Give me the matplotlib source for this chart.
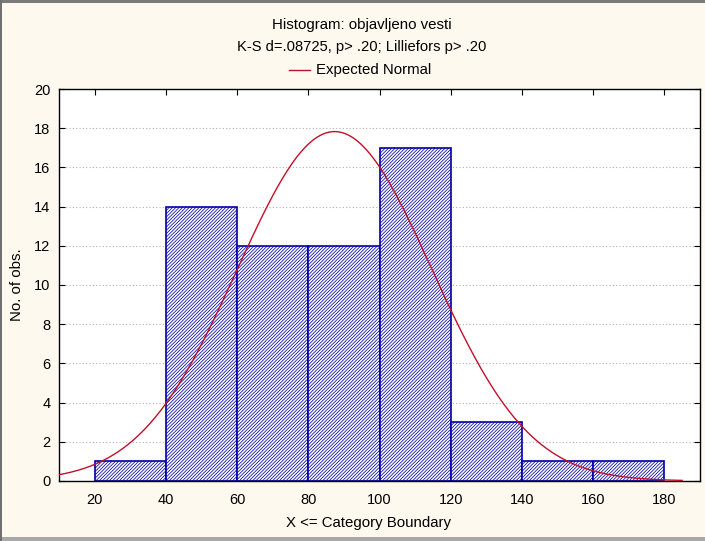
import numpy as np
import matplotlib
matplotlib.use("Agg")
import matplotlib.pyplot as plt
from matplotlib.patches import Rectangle
from matplotlib.lines import Line2D

# ---- data ----
bin_edges = [20, 40, 60, 80, 100, 120, 140, 160, 180]
counts = [1, 14, 12, 12, 17, 3, 1, 1]
n_obs = 61
bin_width = 20
fit_mean = 87.4
fit_sd = 27.3
curve_range = (10, 185)
x_ticks = [20, 40, 60, 80, 100, 120, 140, 160, 180]
y_ticks = [0, 2, 4, 6, 8, 10, 12, 14, 16, 18, 20]

title1 = "Histogram: objavljeno vesti"
title2 = "K-S d=.08725, p> .20; Lilliefors p> .20"
legend_label = "Expected Normal"
xlabel = "X <= Category Boundary"
ylabel = "No. of obs."

plt.rcParams['font.family'] = ['Liberation Sans', 'DejaVu Sans']
plt.rcParams['hatch.linewidth'] = 0.55
plt.rcParams['hatch.color'] = '#1a1a9a'

W, H = 705, 541
fig = plt.figure(figsize=(W / 100, H / 100), dpi=100)
fig.patch.set_facecolor('#FDF9EF')

# frame of the window
fig.add_artist(Rectangle((0, 1 - 3 / H), 1, 3 / H, transform=fig.transFigure,
                         facecolor='#7a7a7a', edgecolor='none'))
fig.add_artist(Rectangle((0, 0), 1, 4 / H, transform=fig.transFigure,
                         facecolor='#a8a8a8', edgecolor='none'))
fig.add_artist(Rectangle((0, 0), 2 / W, 1, transform=fig.transFigure,
                         facecolor='#707070', edgecolor='none'))

ax = fig.add_axes([59 / W, (H - 481) / H, (700 - 59) / W, (481 - 89) / H])
ax.set_facecolor('white')

lefts = bin_edges[:-1]
widths = np.diff(bin_edges)
ax.bar(lefts, counts, width=widths, align='edge', facecolor='white',
       edgecolor='#0000A8', linewidth=1.2, hatch='//////////', zorder=2)

xs = np.linspace(curve_range[0], curve_range[1], 400)
ys = n_obs * bin_width * np.exp(-0.5 * ((xs - fit_mean) / fit_sd) ** 2) / (fit_sd * np.sqrt(2 * np.pi))
ax.plot(xs, ys, color='#C0102A', linewidth=1.0, zorder=3)

ax.set_xlim(10, 190)
ax.set_ylim(0, 20)
ax.set_yticks(y_ticks)
ax.set_xticks(x_ticks)
ax.yaxis.grid(True, linestyle=(0, (1, 2)), color='#b0b0b0', linewidth=0.8, zorder=0)
ax.set_axisbelow(True)

ax.tick_params(axis='x', which='both', bottom=False, top=True, direction='in',
               labelbottom=True, length=4, labelsize=10.5, pad=8.5, colors='black')
ax.tick_params(axis='y', which='both', left=True, right=True, direction='in',
               length=4, labelsize=10.5, pad=6.2)
for s in ax.spines.values():
    s.set_linewidth(1.0)
    s.set_color('black')

fig.text(362 / W, 1 - 25 / H, title1, ha='center', va='center', fontsize=10.8)
fig.text(362 / W, 1 - 47 / H, title2, ha='center', va='center', fontsize=10.6)
fig.add_artist(Line2D([289 / W, 310 / W], [1 - 70 / H, 1 - 70 / H],
                      transform=fig.transFigure, color='#C0102A', linewidth=1.0))
fig.text(316 / W, 1 - 70 / H, legend_label, ha='left', va='center', fontsize=10.8)

fig.text(368 / W, 1 - 523 / H, xlabel, ha='center', va='center', fontsize=10.8)
fig.text(17 / W, 1 - 285 / H, ylabel, ha='center', va='center', fontsize=10.8, rotation=90)

fig.savefig('out.png', dpi=100, facecolor=fig.get_facecolor())
